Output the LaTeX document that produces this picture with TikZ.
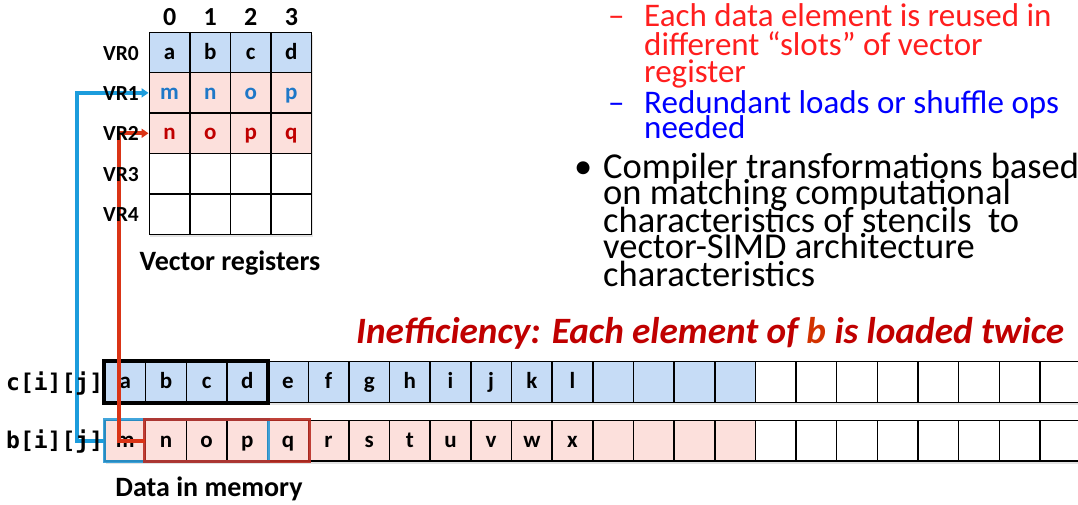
\documentclass[tikz,border=0pt]{standalone}
\usepackage{fontspec}
\setmainfont{Carlito}
\newfontfamily\codefont{DejaVu Sans Mono}
\usetikzlibrary{arrows.meta,shadows}

\definecolor{cellblue}{RGB}{198,220,246}
\definecolor{cellpink}{RGB}{252,224,220}
\definecolor{regblue}{RGB}{30,120,200}
\definecolor{regred}{RGB}{192,0,0}
\definecolor{linkblue}{RGB}{28,156,220}
\definecolor{linkred}{RGB}{218,52,22}
\definecolor{headred}{RGB}{192,0,0}
\definecolor{bred}{RGB}{210,50,0}
\definecolor{itemred}{RGB}{255,30,30}
\definecolor{itemblue}{RGB}{0,0,255}
\definecolor{boxblue}{RGB}{45,155,215}
\definecolor{boxred}{RGB}{185,45,35}

\tikzset{
  cellbase/.style={draw=black, line width=1.5pt, inner sep=0pt,
    font=\fontsize{23}{25}\selectfont\bfseries, text height=17pt, text depth=4pt,
    drop shadow={shadow xshift=1pt, shadow yshift=-2.5pt, opacity=0.22}},
  regcell/.style={cellbase, minimum width=40.6pt, minimum height=40.4pt},
  memcell/.style={cellbase, minimum width=40.65pt, minimum height=40.8pt},
  reglabel/.style={anchor=base east, inner sep=0pt, font=\fontsize{21.5}{24}\selectfont\bfseries},
  colnum/.style={anchor=base, font=\fontsize{26}{28}\selectfont\bfseries},
  caption/.style={anchor=base, font=\fontsize{28}{30}\selectfont\bfseries},
  arrname/.style={anchor=base west, inner sep=0pt, font=\codefont\fontsize{23}{25}\selectfont\bfseries},
  link/.style={line width=3.8pt, -{Triangle[length=7pt,width=9pt]}},
  itemline/.style={anchor=base west, inner sep=0pt, font=\fontsize{33}{34}\selectfont},
  bulletline/.style={anchor=base west, inner sep=0pt, font=\fontsize{36.5}{38}\selectfont},
}

\begin{document}
\begin{tikzpicture}[x=1pt, y=-1pt]
\useasboundingbox (0,0) rectangle (1078,504);

% ---------- vector registers ----------
\foreach \lbl [count=\c from 0] in {a,b,c,d}
  \node[regcell, fill=cellblue] (r0\c) at ({149.3+40.6*(\c+0.5)},52.5) {\lbl};
\foreach \lbl [count=\c from 0] in {m,n,o,p}
  \node[regcell, fill=cellpink, text=regblue] (r1\c) at ({149.3+40.6*(\c+0.5)},92.9) {\lbl};
\foreach \lbl [count=\c from 0] in {n,o,p,q}
  \node[regcell, fill=cellpink, text=regred] (r2\c) at ({149.3+40.6*(\c+0.5)},133.3) {\lbl};
\foreach \c in {0,...,3}{
  \node[regcell, fill=white] (r3\c) at ({149.3+40.6*(\c+0.5)},173.7) {};
  \node[regcell, fill=white] (r4\c) at ({149.3+40.6*(\c+0.5)},214.1) {};
}
\foreach \d [count=\c from 0] in {0,1,2,3}
  \node[colnum] (h\c) at ({149.3+40.6*(\c+0.5)},25) {\d};
\node[caption] (regcap) at (230,270) {Vector registers};

% ---------- data in memory ----------
\foreach \lbl [count=\k from 0] in {a,b,c,d,e,f,g,h,i,j,k,l}
  \node[memcell, fill=cellblue] (c\k) at ({105+40.65*(\k+0.5)},382) {\lbl};
\foreach \k in {12,...,15}
  \node[memcell, fill=cellblue] (c\k) at ({105+40.65*(\k+0.5)},382) {};
\foreach \k in {16,...,23}
  \node[memcell, fill=white] (c\k) at ({105+40.65*(\k+0.5)},382) {};

\foreach \lbl [count=\k from 0] in {m,n,o,p,q,r,s,t,u,v,w,x}
  \node[memcell, fill=cellpink] (b\k) at ({105+40.65*(\k+0.5)},440.7) {\lbl};
\foreach \k in {12,...,15}
  \node[memcell, fill=cellpink] (b\k) at ({105+40.65*(\k+0.5)},440.7) {};
\foreach \k in {16,...,23}
  \node[memcell, fill=white] (b\k) at ({105+40.65*(\k+0.5)},440.7) {};

% vector-sized groups in memory
\draw[line width=4pt, black] (c0.north west) rectangle (c3.south east);
\draw[line width=3pt, boxblue, opacity=0.9] (b0.north west) rectangle (b3.south east);
\draw[line width=3pt, boxred, opacity=0.9] (b1.north west) rectangle (b4.south east);

% loads into the registers
\coordinate (bend1) at (77,440.7);
\coordinate (bend2) at (119,440.7);
\draw[link, linkblue] (b0.west) -- (bend1) |- (r10.west);
\draw[link, linkred] (b1.west) -- (bend2) |- (r20.west);

% row labels
\foreach \r in {0,...,4}
  \node[reglabel] (vr\r) at (139,{52.5+40.4*\r+7.5}) {VR\r};
\node[arrname] (cname) at (6,390) {c[i][j]};
\node[arrname] (bname) at (6,448.7) {b[i][j]};
\node[caption] (memcap) at (209,496.5) {Data in memory};

% ---------- heading ----------
\node[anchor=base west, inner sep=0pt, text=headred,
      font=\fontsize{37.2}{39}\selectfont\bfseries\itshape] (ineff) at (356,343.3)
  {Inefficiency: Each element of \textcolor{bred}{b} is loaded twice};

% ---------- text on the right ----------
\node[itemline, text=itemred] (d1) at (608,26.7) {–};
\node[itemline, text=itemred] (t11) at (644,26.7) {Each data element is reused in};
\node[itemline, text=itemred] (t12) at (644,55) {different “slots” of vector};
\node[itemline, text=itemred] (t13) at (644,82.7) {register};
\node[itemline, text=itemblue] (d2) at (608,113.3) {–};
\node[itemline, text=itemblue] (t21) at (644,113.3) {Redundant loads or shuffle ops};
\node[itemline, text=itemblue] (t22) at (644,138.3) {needed};

\node[bulletline] (bul) at (574,178.3) {•};
\node[bulletline] (u1) at (603,178.3) {Compiler transformations based};
\node[bulletline] (u2) at (603,204.5) {on matching computational};
\node[bulletline] (u3) at (603,232.3) {characteristics of stencils\ \ to};
\node[bulletline] (u4) at (603,258.5) {vector-SIMD architecture};
\node[bulletline] (u5) at (603,286) {characteristics};
\end{tikzpicture}
\end{document}
